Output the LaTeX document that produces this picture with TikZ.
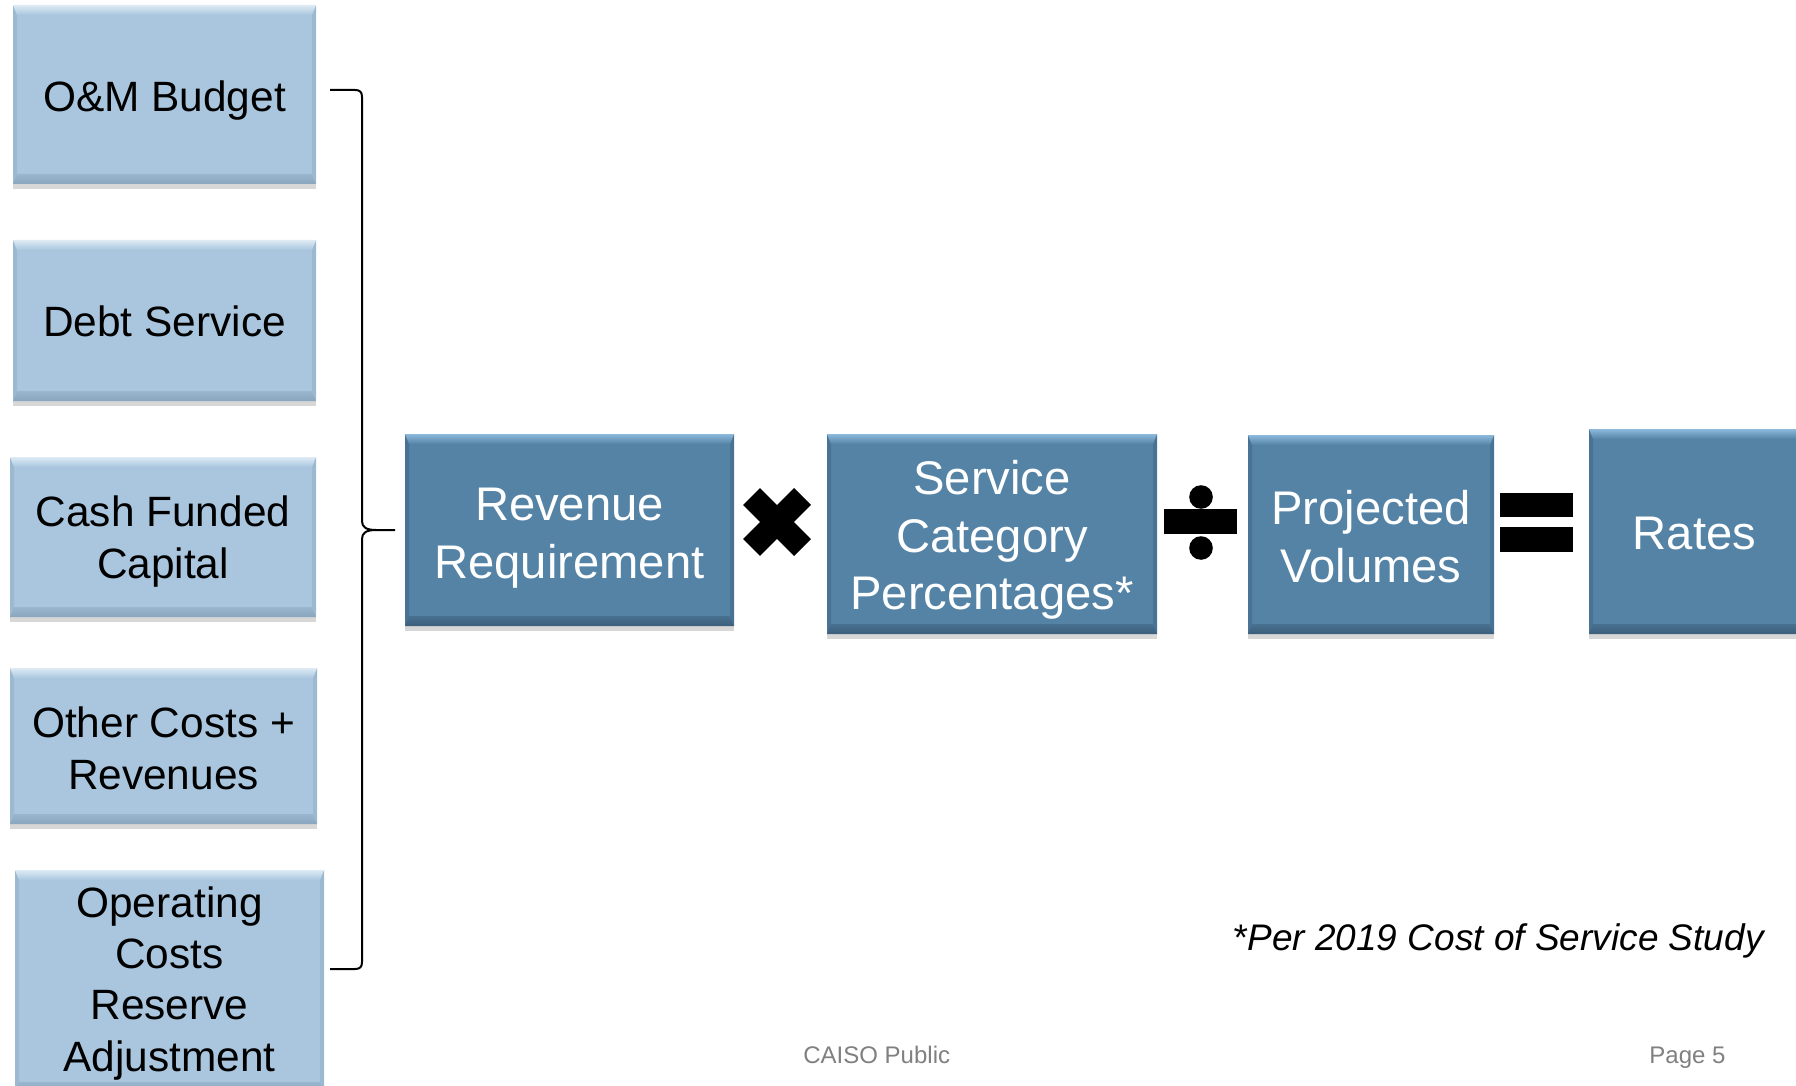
\documentclass[tikz,border=0pt]{standalone}
\usepackage{fontspec}
\setmainfont{Liberation Sans}
\usetikzlibrary{shadows}
\definecolor{lightfill}{RGB}{169,198,222}
\definecolor{lighttop}{RGB}{222,235,245}
\definecolor{lightbot}{RGB}{138,166,190}
\definecolor{lightside}{RGB}{155,185,209}
\definecolor{darkfill}{RGB}{84,131,166}
\definecolor{darktop}{RGB}{140,185,220}
\definecolor{darkbot}{RGB}{60,94,122}
\definecolor{darkside}{RGB}{72,115,148}
\definecolor{footgray}{RGB}{128,128,128}

\newcommand\bevelpp[4]{%
  \fill[#4] (path picture bounding box.north west) -- ([xshift=2pt,yshift=-5pt]path picture bounding box.north west) -- ([xshift=2pt,yshift=5pt]path picture bounding box.south west) -- (path picture bounding box.south west) -- cycle;
  \fill[#4] (path picture bounding box.north east) -- ([xshift=-2pt,yshift=-5pt]path picture bounding box.north east) -- ([xshift=-2pt,yshift=5pt]path picture bounding box.south east) -- (path picture bounding box.south east) -- cycle;
  \shade[top color=#1, bottom color=#2] (path picture bounding box.north west) -- (path picture bounding box.north east) -- ([xshift=-2pt,yshift=-5pt]path picture bounding box.north east) -- ([xshift=2pt,yshift=-5pt]path picture bounding box.north west) -- cycle;
  \shade[top color=#2!50!#3, bottom color=#3] (path picture bounding box.south west) -- (path picture bounding box.south east) -- ([xshift=-2pt,yshift=5pt]path picture bounding box.south east) -- ([xshift=2pt,yshift=5pt]path picture bounding box.south west) -- cycle;
}

\tikzset{
  boxbase/.style={inner sep=0pt,
    drop shadow={shadow xshift=0pt, shadow yshift=-2.5pt, opacity=0.22, fill=black!70}},
  lightbox/.style={boxbase, fill=lightfill,
    path picture={\bevelpp{lighttop}{lightfill}{lightbot}{lightside}}},
  darkbox/.style={boxbase, fill=darkfill,
    path picture={\bevelpp{darktop}{darkfill}{darkbot}{darkside}}},
  lightboxtext/.style={inner sep=0pt, align=center, text=black,
    font=\fontsize{21.2}{25.6}\selectfont},
  darkboxtext/.style={inner sep=0pt, align=center, text=white,
    font=\fontsize{23.6}{28.9}\selectfont},
  bracketline/.style={line width=1pt, black},
  opsign/.style={fill=black},
  foot/.style={inner sep=0pt, text=footgray, font=\fontsize{12}{14}\selectfont},
  note/.style={inner sep=0pt, text=black, font=\fontsize{18.5}{22}\selectfont\itshape}
}

% #1 style, #2 name, #3 x1, #4 y1, #5 x2, #6 y2, #7 text, #8 text shift (pt, downward)
\newcommand\boxat[8]{%
  \node[#1, minimum width={(#5-#3)*0.5pt}, minimum height={(#6-#4)*0.5pt}]
    (#2) at ({(#3+#5)/2},{(#4+#6)/2}) {};
  \node[#1text] (#2-label) at ([yshift=-#8pt]#2.center) {#7};}

\begin{document}
\begin{tikzpicture}[x=0.5pt,y=-0.5pt]
\useasboundingbox (0,0) rectangle (1796,1086);
\clip (0,0) rectangle (1796,1086);
\fill[white] (0,0) rectangle (1796,1086);

% left column
\boxat{lightbox}{om}{13}{5}{316}{184}{O\&M Budget}{2.9}
\boxat{lightbox}{debt}{13}{240}{316}{401}{Debt Service}{0.6}
\boxat{lightbox}{cash}{10}{457}{316}{617}{Cash Funded\\Capital}{2.3}
\boxat{lightbox}{other}{10}{668}{317}{824}{Other Costs +\\Revenues}{1.2}
\boxat{lightbox}{oper}{15}{870}{324}{1092}{Operating\\Costs\\Reserve\\Adjustment}{1.2}

% bracket
\coordinate (btop) at (330,90);
\coordinate (bbot) at (330,969);
\coordinate (btip) at (395,530);
\draw[bracketline] (btop) -- (355,90) .. controls (360,90) and (362,92) .. (362,97)
  -- (362,521) .. controls (362,527) and (366,530) .. (376,530) -- (btip);
\draw[bracketline] (376,530) .. controls (366,530) and (362,533) .. (362,539)
  -- (362,962) .. controls (362,967) and (360,969) .. (355,969) -- (bbot);

% main row
\boxat{darkbox}{rev}{405}{434}{734}{626}{Revenue\\Requirement}{4}
\boxat{darkbox}{svc}{827}{434}{1157}{634}{Service\\Category\\Percentages*}{2.9}
\boxat{darkbox}{vol}{1248}{435}{1494}{634}{Projected\\Volumes}{0.9}
\boxat{darkbox}{rates}{1589}{429}{1800}{634}{Rates}{1.2}

% multiply sign
\draw[line width=12pt, black] (751.5,496.5) -- (802.5,547.5);
\draw[line width=12pt, black] (751.5,547.5) -- (802.5,496.5);

% divide sign
\fill[opsign] (1164,509) rectangle (1237,534);
\fill[opsign] (1201,497) circle[radius=5.9pt];
\fill[opsign] (1201,548) circle[radius=5.9pt];

% equals sign
\fill[opsign] (1500,493) rectangle (1573,517);
\fill[opsign] (1500,527) rectangle (1573,552);

% footnote and footer
\node[note, anchor=base east] (fn) at (1764,950) {*Per 2019 Cost of Service Study};
\node[foot, anchor=base west] (pub) at (803,1063) {CAISO Public};
\node[foot, anchor=base west] (pg) at (1649,1063) {Page 5};
\end{tikzpicture}
\end{document}
